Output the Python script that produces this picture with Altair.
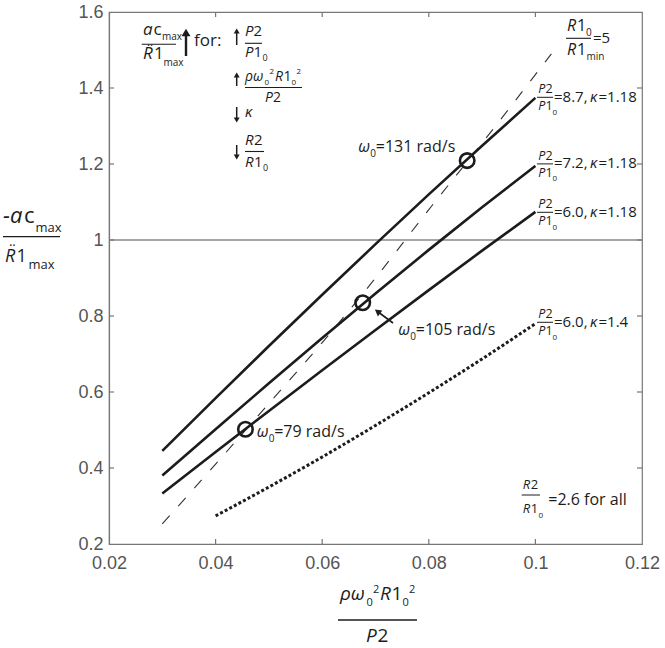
import altair as alt
import pandas as pd

# ---------------- data ----------------
x_grid = [0.03, 0.04, 0.05, 0.06, 0.07, 0.08, 0.09, 0.10]
y_p87 = [0.445, 0.584, 0.721, 0.856, 0.989, 1.120, 1.248, 1.374]
y_p72 = [0.380, 0.502, 0.623, 0.742, 0.859, 0.974, 1.086, 1.195]
y_p60 = [0.333, 0.442, 0.550, 0.657, 0.763, 0.868, 0.972, 1.074]
x_k14 = [0.04, 0.05, 0.06, 0.07, 0.08, 0.09, 0.10]
y_k14 = [0.274, 0.350, 0.429, 0.512, 0.598, 0.687, 0.780]
x_dash = [0.03, 0.04, 0.05, 0.06, 0.07, 0.08, 0.09, 0.103]
y_dash = [0.253, 0.41, 0.57, 0.73, 0.90, 1.08, 1.255, 1.49]
omega_x = [0.0456, 0.0676, 0.0872]
omega_y = [0.502, 0.835, 1.209]
x_ticks = [0.02, 0.04, 0.06, 0.08, 0.10, 0.12]
y_ticks = [0.2, 0.4, 0.6, 0.8, 1.0, 1.2, 1.4, 1.6]
ref_y = [1.0]

# ---------------- layout ----------------
L, R, T, B = 109, 642, 12, 544
W, H = R - L, B - T
XMIN, XMAX, YMIN, YMAX = 0.02, 0.12, 0.2, 1.6


def X(px):
    return XMIN + (px - L) / W * (XMAX - XMIN)


def Y(py):
    return YMAX - (py - T) / H * (YMAX - YMIN)


xs = alt.Scale(domain=[XMIN, XMAX], nice=False, zero=False)
ys = alt.Scale(domain=[YMIN, YMAX], nice=False, zero=False)
axis_common = dict(title=None, ticks=False, tickSize=0, grid=False,
                   labelFontSize=18, labelFont="Liberation Sans", labelColor="#555",
                   domainColor="#777", domainWidth=1.2, labelFlush=False,
                   labelOverlap=False, format=".2~f")
xa = alt.Axis(values=x_ticks, labelPadding=10, **axis_common)
ya = alt.Axis(values=y_ticks, labelPadding=6, **axis_common)


def EX(f):
    return alt.X(f, type="quantitative", scale=xs, axis=xa)


def EY(f):
    return alt.Y(f, type="quantitative", scale=ys, axis=ya)


INK = "#1c1c1c"
GRAY = "#777777"

# ---------------- curves ----------------
solid = pd.DataFrame(
    [{"x": x, "y": y, "s": "8.7"} for x, y in zip(x_grid, y_p87)]
    + [{"x": x, "y": y, "s": "7.2"} for x, y in zip(x_grid, y_p72)]
    + [{"x": x, "y": y, "s": "6.0"} for x, y in zip(x_grid, y_p60)]
)
solid_layer = alt.Chart(solid).mark_line(color=INK, strokeWidth=2.6, interpolate="monotone").encode(
    x=EX("x"), y=EY("y"), detail="s:N")

dotted = pd.DataFrame({"x": x_k14, "y": y_k14})
dotted_layer = alt.Chart(dotted).mark_line(color=INK, strokeWidth=3, strokeDash=[3, 2.2],
                                           interpolate="monotone").encode(x=EX("x"), y=EY("y"))

dashed = pd.DataFrame({"x": x_dash, "y": y_dash})
dashed_layer = alt.Chart(dashed).mark_line(color="#333", strokeWidth=1.1, strokeDash=[11, 13],
                                           interpolate="monotone").encode(x=EX("x"), y=EY("y"))

circles = pd.DataFrame({"x": omega_x, "y": omega_y})
circle_layer = alt.Chart(circles).mark_point(shape="circle", filled=False, size=210, strokeWidth=2.6,
                                             color=INK, opacity=1).encode(x=EX("x"), y=EY("y"))

refdf = pd.DataFrame({"y": ref_y, "x1": [XMIN], "x2": [XMAX]})
ref_layer = alt.Chart(refdf).mark_rule(color="#888", strokeWidth=1.5).encode(
    x=EX("x1"), x2="x2", y=EY("y"))

# ---------------- rules: inward ticks, fraction bars, arrow stems ----------------
rules = []
tl_x = 5 / W * (XMAX - XMIN)
tl_y = 5 / H * (YMAX - YMIN)
for v in x_ticks[1:-1]:
    rules.append((v, v, YMIN, YMIN + tl_y, 1.2, GRAY))
    rules.append((v, v, YMAX, YMAX - tl_y, 1.2, GRAY))
for v in y_ticks[1:-1]:
    rules.append((XMIN, XMIN + tl_x, v, v, 1.2, GRAY))
    rules.append((XMAX, XMAX - tl_x, v, v, 1.2, GRAY))


def bar(px1, px2, py, w=1.1):
    rules.append((X(px1), X(px2), Y(py), Y(py), w, INK))


def vstem(px, py1, py2, w=1.5):
    rules.append((X(px), X(px), Y(py1), Y(py2), w, INK))


heads = []


def head(px, py, shape, size, angle=0):
    heads.append({"x": X(px), "y": Y(py), "shape": shape, "size": size, "angle": angle})


texts = []


def t(px, py, s, size, italic=False):
    texts.append({"x": X(px), "y": Y(py), "t": s, "size": size, "it": italic})


RDD = "R\u0308"

# top-left legend
t(143, 35, "a", 17, True)
t(153.5, 35, "c", 17)
t(162, 40, "max", 10)
bar(141.7, 176, 44.3)
t(143, 59, RDD, 17, True)
t(154, 59, "1", 17)
t(163.5, 65.5, "max", 10)
vstem(186, 34, 56, 2.4)
head(186, 32.5, "triangle-up", 80)
t(194, 46, "for:", 17)

vstem(236.7, 31, 45)
head(236.7, 31, "triangle-up", 36)
vstem(236.7, 75, 86)
head(236.7, 75, "triangle-up", 36)
vstem(236.7, 107, 120)
head(236.7, 120, "triangle-down", 36)
vstem(236.7, 145, 157)
head(236.7, 157, "triangle-down", 36)

t(245, 36, "P", 15, True)
t(253.5, 36, "2", 15)
bar(245, 262, 43.3)
t(245, 56.5, "P", 15, True)
t(253.5, 56.5, "1", 15)
t(262.5, 60.5, "0", 9)

t(245, 80.5, "ρω", 14, True)
t(264.5, 85, "0", 8)
t(269.5, 74, "2", 8)
t(275, 80.5, "R", 14, True)
t(283.5, 80.5, "1", 14)
t(291.5, 85, "0", 8)
t(296.5, 74, "2", 8)
bar(245, 302, 87.5)
t(265, 102, "P", 14, True)
t(273, 102, "2", 14)

t(245, 117.3, "κ", 15, True)

t(245, 145, "R", 15, True)
t(254, 145, "2", 15)
bar(245, 264, 151.5)
t(245, 167, "R", 15, True)
t(254, 167, "1", 15)
t(263, 171, "0", 9)

# R1_0 / R1_min = 5
t(567, 31, "R", 16, True)
t(577, 31, "1", 16)
t(586, 36, "0", 10)
bar(566, 591, 38.3)
t(567, 55, "R", 16, True)
t(577, 55, "1", 16)
t(586.5, 59.5, "min", 10)
t(593, 43.3, "=5", 15)

# P2/P1_0 labels
for b, eq, kap in [(101.7, "=8.7,", "=1.18"), (168.3, "=7.2,", "=1.18"),
                   (216.7, "=6.0,", "=1.18"), (326.7, "=6.0,", "=1.4")]:
    t(538.3, b - 8.4, "P", 12.5, True)
    t(545.5, b - 8.4, "2", 12.5)
    bar(537, 553, b - 4.4, 1.0)
    t(538.3, b + 8.3, "P", 12.5, True)
    t(545.5, b + 8.3, "1", 12.5)
    t(552.5, b + 13, "0", 8)
    t(554, b, eq, 15)
    t(590, b, "κ", 15, True)
    t(598.5, b, kap, 15)

# R2/R1_0 = 2.6 for all
t(522.7, 489.3, "R", 13, True)
t(530.7, 489.3, "2", 13)
bar(521.7, 540, 495, 1.0)
t(522.7, 513, "R", 13, True)
t(530.7, 513, "1", 13)
t(538.5, 518, "0", 8)
t(548.3, 505, "=2.6 for all", 16)

# omega labels
for px, py, s in [(358.3, 151.7, "=131 rad/s"), (398.3, 335, "=105 rad/s"), (256.7, 437.3, "=79 rad/s")]:
    t(px, py, "ω", 16, True)
    t(px + 12, py + 5, "0", 10)
    t(px + 17.5, py, s, 16)

# arrow to the 105 rad/s circle
rules.append((X(393), X(377.5), Y(323), Y(311.5), 1.6, INK))
head(377.5, 311.5, "triangle-up", 55, 306)

# y title
t(3, 222.7, "-a", 22, True)
t(24, 222.7, "c", 22)
t(35.5, 231.7, "max", 13)
bar(3, 60, 236.7, 1.3)
t(5, 261.7, RDD, 18, True)
t(16.5, 261.7, "1", 18)
t(28.5, 269.3, "max", 13)

# x title
t(340, 600, "ρω", 19, True)
t(366.5, 606, "0", 11)
t(373, 593, "2", 11)
t(380, 600, "R", 19, True)
t(391.5, 600, "1", 19)
t(402.5, 606, "0", 11)
t(409, 593, "2", 11)
bar(338, 417, 620, 1.3)
t(366, 642, "P", 19, True)
t(377.5, 642, "2", 19)

rule_df = pd.DataFrame(rules, columns=["x1", "x2", "y1", "y2", "w", "c"])
rule_layer = alt.Chart(rule_df).mark_rule().encode(
    x=EX("x1"), x2="x2", y=EY("y1"), y2="y2",
    size=alt.Size("w:Q", scale=None), color=alt.Color("c:N", scale=None))

head_df = pd.DataFrame(heads)
head_layer = alt.Chart(head_df).mark_point(filled=True, color=INK, opacity=1, strokeWidth=0).encode(
    x=EX("x"), y=EY("y"), shape=alt.Shape("shape:N", scale=None),
    size=alt.Size("size:Q", scale=None), angle=alt.Angle("angle:Q", scale=None))

text_df = pd.DataFrame(texts)
text_it = alt.Chart(text_df).transform_filter("datum.it").mark_text(
    align="left", baseline="alphabetic", font="Open Sans", fontStyle="italic", color=INK).encode(
    x=EX("x"), y=EY("y"), text="t:N", size=alt.Size("size:Q", scale=None))
text_up = alt.Chart(text_df).transform_filter("!datum.it").mark_text(
    align="left", baseline="alphabetic", font="Open Sans", color=INK).encode(
    x=EX("x"), y=EY("y"), text="t:N", size=alt.Size("size:Q", scale=None))

chart = alt.layer(
    ref_layer, rule_layer, dashed_layer, dotted_layer, solid_layer, circle_layer,
    head_layer, text_it, text_up
).properties(
    width=W, height=H,
    autosize=alt.AutoSizeParams(type="none"),
    padding={"left": L, "top": T, "right": 665 - R, "bottom": 648 - B},
    background="white",
).configure_view(stroke=GRAY, strokeWidth=1.2)

chart.save("out.html", embed_options={"renderer": "svg", "actions": False})
